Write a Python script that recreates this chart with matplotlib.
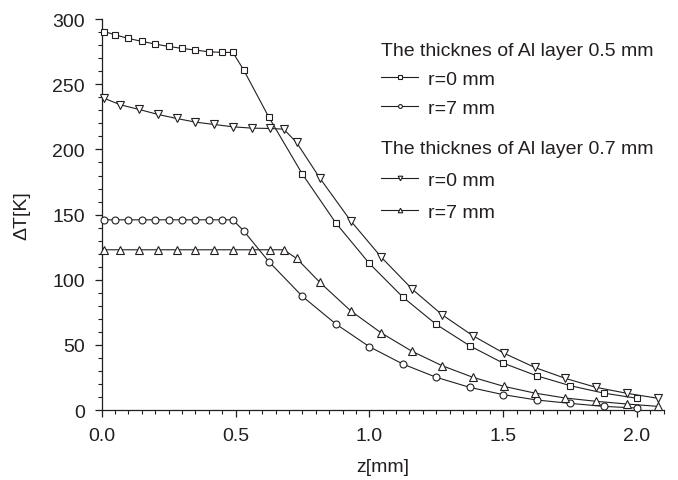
import matplotlib
matplotlib.use("Agg")
import matplotlib.pyplot as plt
from matplotlib.ticker import MultipleLocator

plt.rcParams['font.family'] = ['Liberation Sans', 'DejaVu Sans']

# Al layer 0.5 mm
z_05 = [0.01, 0.05, 0.10, 0.15, 0.20, 0.25, 0.30, 0.35, 0.40, 0.45, 0.49, 0.53,
        0.625, 0.75, 0.875, 1.0, 1.125, 1.25, 1.375, 1.5, 1.625, 1.75, 1.875, 2.0]
T_05_r0 = [290.5, 288, 285.2, 283, 280.9, 279.1, 277.6, 276.3, 275, 274.5, 274.5, 261.2,
           224.6, 181, 143.5, 112.5, 86.7, 65.7, 49.3, 36, 26.3, 18.7, 13, 9]
T_05_r7 = [146, 146, 146, 146, 146, 146, 146, 146, 146, 146, 146, 137.6,
           113.8, 87.2, 66, 48.6, 35.3, 25.1, 17.4, 11.8, 7.7, 5.1, 2.8, 1.5]

# Al layer 0.7 mm
z_07 = [0.01, 0.07, 0.14, 0.21, 0.28, 0.35, 0.42, 0.49, 0.56, 0.63, 0.68, 0.728,
        0.815, 0.93, 1.045, 1.16, 1.272, 1.387, 1.502, 1.618, 1.732, 1.847, 1.963, 2.078]
T_07_r0 = [239.2, 234.3, 230.7, 226.9, 223.8, 221, 219.2, 217.4, 216.4, 216.1, 215.6, 205.4,
           178, 145.3, 117.2, 92.8, 73.1, 57, 43.7, 32.7, 24.3, 17.4, 12.8, 9]
T_07_r7 = [123, 123, 123, 123, 123, 123, 123, 123, 123, 123, 123, 116.4,
           98, 76.2, 59.1, 45, 34, 25.1, 18.2, 13, 9.2, 6.7, 4.6, 2.8]

label_r0 = "r=0 mm"
label_r7 = "r=7 mm"
title_05 = "The thicknes of Al layer 0.5 mm"
title_07 = "The thicknes of Al layer 0.7 mm"

ink = '#231f20'
fs = 14
fig = plt.figure(figsize=(6.78, 4.81), dpi=100)
ax = fig.add_axes([0.150, 0.1455, 0.829, 0.8125])

common = dict(color=ink, lw=0.8, mfc='white', mec=ink, mew=0.8, clip_on=False, zorder=3)
l1, = ax.plot(z_05, T_05_r0, marker='s', ms=4.6, label=label_r0, **common)
l2, = ax.plot(z_05, T_05_r7, marker='o', ms=5.0, label=label_r7, **common)
l3, = ax.plot(z_07, T_07_r0, marker='v', ms=6.0, label=label_r0, **common)
l4, = ax.plot(z_07, T_07_r7, marker='^', ms=6.0, label=label_r7, **common)

ax.set_xlim(0, 2.1)
ax.set_ylim(0, 300)
ax.xaxis.set_major_locator(MultipleLocator(0.5))
ax.xaxis.set_minor_locator(MultipleLocator(0.05))
ax.yaxis.set_major_locator(MultipleLocator(50))
ax.yaxis.set_minor_locator(MultipleLocator(10))
ax.xaxis.set_major_formatter(matplotlib.ticker.FormatStrFormatter('%.1f'))
for s in ['top', 'right']:
    ax.spines[s].set_visible(False)
for s in ['left', 'bottom']:
    ax.spines[s].set_color(ink)
    ax.spines[s].set_linewidth(0.9)
ax.tick_params(which='major', direction='out', length=5, width=0.9, colors=ink,
               labelsize=fs, labelcolor=ink, pad=7)
ax.tick_params(which='minor', direction='out', length=3, width=0.8, colors=ink)

ax.set_xlabel("z[mm]", fontsize=fs, color=ink, labelpad=10)
ax.set_ylabel("\u0394T[K]", fontsize=fs, color=ink, labelpad=16)

leg_kw = dict(frameon=False, fontsize=fs, title_fontsize=fs, handlelength=1.9,
              handletextpad=0.5, borderpad=0, borderaxespad=0,
              markerscale=0.55, alignment='left', loc='upper left',
              bbox_transform=fig.transFigure, labelcolor=ink)
leg1 = ax.legend([l1, l2], [label_r0, label_r7], title=title_05, labelspacing=0.58,
                 bbox_to_anchor=(0.562, 0.910), **leg_kw)
leg1.get_title().set_color(ink)
ax.add_artist(leg1)
leg2 = ax.legend([l3, l4], [label_r0, label_r7], title=title_07, labelspacing=0.72,
                 bbox_to_anchor=(0.562, 0.706), **leg_kw)
leg2.get_title().set_color(ink)

fig.savefig("out.png", dpi=100)
